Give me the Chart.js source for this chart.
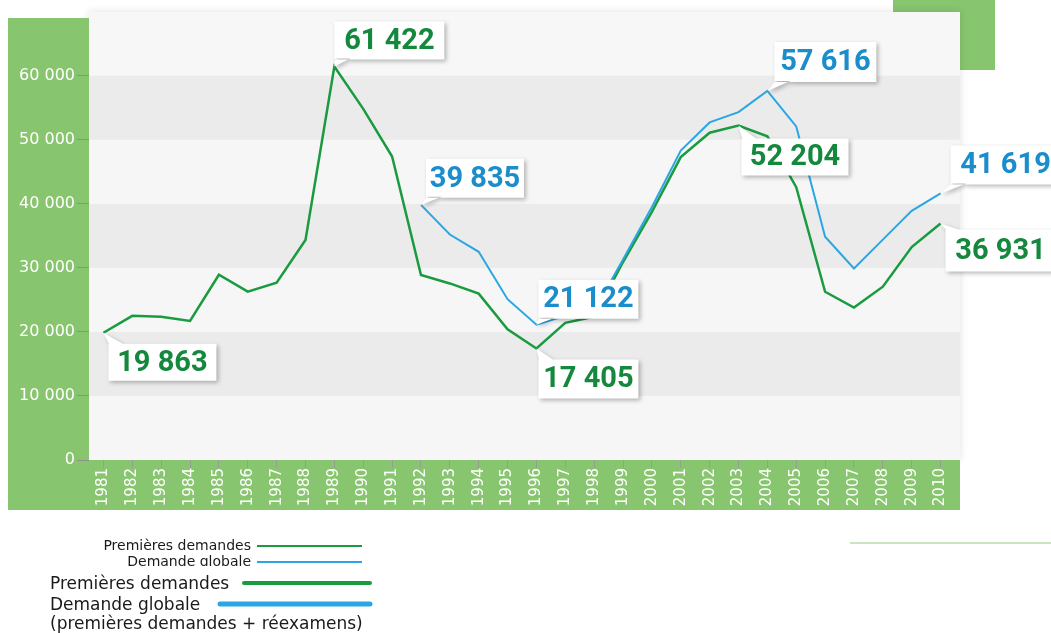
<!DOCTYPE html>
<html>
<head>
<meta charset="utf-8">
<script src="https://cdn.jsdelivr.net/npm/chart.js@4"></script>
<style>
  html, body { margin: 0; padding: 0; background: #fff; }
  #wrap { width: 1051px; height: 633px; position: relative; overflow: hidden; }
</style>
</head>
<body>
<div id="wrap"><canvas id="chart" width="1051" height="633"></canvas></div>
<script>
// Data
const years = ['1981','1982','1983','1984','1985','1986','1987','1988','1989','1990',
               '1991','1992','1993','1994','1995','1996','1997','1998','1999','2000',
               '2001','2002','2003','2004','2005','2006','2007','2008','2009','2010'];

const premieresDemandes = [19863, 22505, 22350, 21714, 28925, 26290, 27672, 34352, 61422, 54813,
                           47380, 28872, 27564, 25964, 20415, 17405, 21416, 22375, 30907, 38747,
                           47291, 51087, 52204, 50547, 42578, 26269, 23804, 27063, 33235, 36931];

const demandeGlobale = [null, null, null, null, null, null, null, null, null, null,
                        null, 39835, 35200, 32500, 25100, 21122, 22500, 23300, 31300, 39500,
                        48300, 52700, 54300, 57616, 52066, 34853, 29900, 34400, 38900, 41619];

const yTicks = [0, 10000, 20000, 30000, 40000, 50000, 60000];

// which points get a callout: [series, year]
const callouts = [
    ['pd', '1981'], ['pd', '1989'], ['dg', '1992'], ['dg', '1996'], ['pd', '1996'],
    ['dg', '2004'], ['pd', '2003'], ['dg', '2010'], ['pd', '2010']
];

// callout box placement relative to point (style only)
const calloutStyle = {
    'pd1981': {dx: 5, dy: 11, w: 108, h: 37, tail: 'top'},
    'pd1989': {dx: 0, dy: -45, w: 110, h: 38, tail: 'bottom'},
    'dg1992': {dx: 5, dy: -46, w: 98, h: 39, tail: 'bottom'},
    'dg1996': {dx: 2, dy: -45, w: 100, h: 39, tail: 'bottom'},
    'pd1996': {dx: 2, dy: 11, w: 100, h: 39, tail: 'top'},
    'dg2004': {dx: 7, dy: -49, w: 102, h: 40, tail: 'bottom'},
    'pd2003': {dx: 3, dy: 13, w: 107, h: 37, tail: 'top'},
    'dg2010': {dx: 10, dy: -48, w: 110, h: 39, tail: 'bottom'},
    'pd2010': {dx: 5, dy: 6, w: 110, h: 42, tail: 'top'}
};

const GREEN_PANEL = '#88c56f';
const GREEN_LINE = '#1a9b40';
const BLUE_LINE = '#2aa7e2';
const GREEN_TXT = '#14883c';
const BLUE_TXT = '#1b8dcb';

function fmt(v) {
    return String(v).replace(/\B(?=(\d{3})+(?!\d))/g, ' ');
}

const backdrop = {
    id: 'backdrop',
    beforeDraw(chart) {
        const c = chart.ctx;
        const y = chart.scales.y;
        const a = chart.chartArea;
        c.save();
        // top-right green block
        c.fillStyle = GREEN_PANEL;
        c.fillRect(893, 0, 102, 70);
        // plot background with soft shadow
        c.shadowColor = 'rgba(0,0,0,0.12)';
        c.shadowBlur = 8;
        c.fillStyle = '#f7f7f7';
        c.fillRect(a.left, 12, 960 - a.left, a.bottom - 12);
        c.shadowColor = 'transparent';
        // bands
        for (let i = 0; i < yTicks.length - 1; i++) {
            const top = y.getPixelForValue(yTicks[i + 1]);
            const bot = y.getPixelForValue(yTicks[i]);
            c.fillStyle = (i % 2 === 1) ? '#ebebeb' : '#f6f6f6';
            c.fillRect(a.left, top, 960 - a.left, bot - top);
        }
        // green panels
        c.fillStyle = GREEN_PANEL;
        c.fillRect(8, 18, a.left - 8, 510 - 18);
        c.fillRect(8, a.bottom, 960 - 8, 510 - a.bottom);
        c.restore();
    }
};

const calloutPlugin = {
    id: 'callouts',
    afterDatasetsDraw(chart) {
        const c = chart.ctx;
        const xs = chart.scales.x, ys = chart.scales.y;
        c.save();
        for (const [ser, yr] of callouts) {
            const idx = years.indexOf(yr);
            const val = ser === 'pd' ? premieresDemandes[idx] : demandeGlobale[idx];
            const st = calloutStyle[ser + yr];
            const px = xs.getPixelForValue(idx);
            const py = ys.getPixelForValue(val);
            const bx = px + st.dx, by = py + st.dy;
            c.beginPath();
            c.rect(bx, by, st.w, st.h);
            if (st.tail === 'bottom') {
                c.moveTo(bx + 1, by + st.h - 1);
                c.lineTo(px, py);
                c.lineTo(bx + 16, by + st.h - 1);
            } else {
                c.moveTo(bx + 1, by + 1);
                c.lineTo(px, py);
                c.lineTo(bx + 16, by + 1);
            }
            c.shadowColor = 'rgba(0,0,0,0.28)';
            c.shadowBlur = 4;
            c.shadowOffsetX = 2;
            c.shadowOffsetY = 2;
            c.fillStyle = '#ffffff';
            c.fill('nonzero');
            c.shadowColor = 'transparent';
            c.fillStyle = ser === 'pd' ? GREEN_TXT : BLUE_TXT;
            c.font = 'bold 29px Roboto';
            c.textAlign = 'center';
            c.textBaseline = 'middle';
            c.fillText(fmt(val), bx + st.w / 2, by + st.h / 2 + 1);
        }
        c.restore();
    }
};

const legendPlugin = {
    id: 'legendDraw',
    afterDraw(chart) {
        const c = chart.ctx;
        c.save();
        c.fillStyle = '#1a1a1a';
        c.textBaseline = 'alphabetic';
        // small legend
        c.font = '14px "DejaVu Sans"';
        c.textAlign = 'right';
        c.fillText('Premières demandes', 251, 550);
        c.save();
        c.beginPath();
        c.rect(0, 553, 400, 13);
        c.clip();
        c.fillText('Demande globale', 251, 566);
        c.restore();
        c.lineCap = 'butt';
        c.lineWidth = 2;
        c.strokeStyle = GREEN_LINE;
        c.beginPath(); c.moveTo(257, 546); c.lineTo(362, 546); c.stroke();
        c.strokeStyle = BLUE_LINE;
        c.beginPath(); c.moveTo(257, 562); c.lineTo(362, 562); c.stroke();
        // big legend
        c.textAlign = 'left';
        c.font = '17px "DejaVu Sans"';
        c.fillText('Premières demandes', 50, 589);
        c.fillText('Demande globale', 50, 610);
        c.fillText('(premières demandes + réexamens)', 50, 629);
        c.lineCap = 'round';
        c.lineWidth = 4;
        c.strokeStyle = GREEN_LINE;
        c.beginPath(); c.moveTo(244, 583); c.lineTo(370, 583); c.stroke();
        c.lineWidth = 5;
        c.strokeStyle = BLUE_LINE;
        c.beginPath(); c.moveTo(220, 604); c.lineTo(370, 604); c.stroke();
        // faint separator on the right
        c.lineCap = 'butt';
        c.lineWidth = 1.5;
        c.strokeStyle = '#b9ddaa';
        c.beginPath(); c.moveTo(850, 543); c.lineTo(1051, 543); c.stroke();
        c.restore();
    }
};

const ctx = document.getElementById('chart').getContext('2d');
new Chart(ctx, {
    type: 'line',
    data: {
        labels: years,
        datasets: [{
            label: 'Premières demandes',
            data: premieresDemandes,
            borderColor: GREEN_LINE,
            borderWidth: 2.5,
            pointRadius: 0,
            tension: 0,
            order: 1
        }, {
            label: 'Demande globale',
            data: demandeGlobale,
            borderColor: BLUE_LINE,
            borderWidth: 2,
            pointRadius: 0,
            tension: 0,
            order: 0
        }]
    },
    options: {
        responsive: false,
        animation: false,
        events: [],
        layout: { padding: { left: 8, top: 7, right: 96, bottom: 123 } },
        plugins: {
            legend: { display: false },
            tooltip: { enabled: false }
        },
        scales: {
            x: {
                offset: true,
                afterFit: s => { s.height = 50; },
                grid: { drawOnChartArea: false, tickLength: 8, color: '#9b9b9b', lineWidth: 1 },
                border: { display: false },
                ticks: {
                    color: '#ffffff',
                    font: { family: 'DejaVu Sans', size: 15 },
                    minRotation: 90,
                    maxRotation: 90,
                    autoSkip: false,
                    padding: 0
                }
            },
            y: {
                min: 0,
                max: 70000,
                afterFit: s => { s.width = 81; },
                grid: {
                    drawOnChartArea: false,
                    tickLength: 12,
                    lineWidth: 1,
                    color: c => (c.tick && c.tick.value > 60000 ? 'rgba(0,0,0,0)' : '#8f8f8f')
                },
                border: { display: false },
                ticks: {
                    stepSize: 10000,
                    color: '#ffffff',
                    padding: 2,
                    font: { family: 'DejaVu Sans', size: 16 },
                    callback: v => (v > 60000 ? '' : fmt(v))
                }
            }
        }
    },
    plugins: [backdrop, calloutPlugin, legendPlugin]
});
</script>
</body>
</html>
